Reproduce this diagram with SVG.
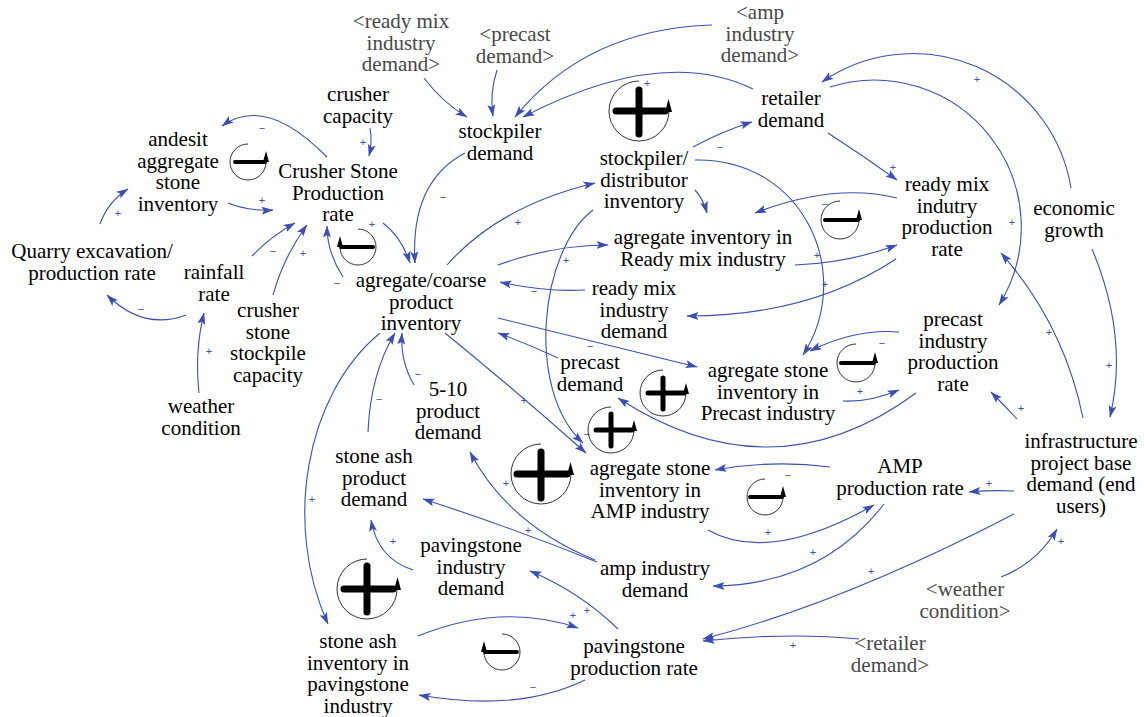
<svg xmlns="http://www.w3.org/2000/svg" width="1144" height="717" viewBox="0 0 1144 717">
<style>
  text { font-family: "Liberation Serif", "Times New Roman", serif; font-size: 21px; text-anchor: middle; fill: #000; }
  text.shadow { fill: #474747; }
  text.pol { font-family: "Liberation Sans", Arial, sans-serif; font-size: 11px; fill: #3c4fb0; dominant-baseline: central; }
  .link { fill: none; stroke: #3c4fb0; stroke-width: 1.1; marker-end: url(#ah); }
  .ring { fill: none; stroke: #333; stroke-width: 1; }
  .bar { stroke: #000; stroke-width: 4; stroke-linecap: round; }
  .bar5 { stroke: #000; stroke-width: 5; stroke-linecap: round; }
  .bar7 { stroke: #000; stroke-width: 7; stroke-linecap: round; }
  .tip { fill: #000; }
</style>
<defs>
  <marker id="ah" markerWidth="12" markerHeight="9" refX="11.5" refY="4.5" orient="auto" markerUnits="userSpaceOnUse">
    <path d="M0,0.5 L12,4.5 L0,8.5 L2.5,4.5 z" fill="#3c4fb0"/>
  </marker>
</defs>
<rect width="1144" height="717" fill="#fff"/>

<g id="connectors">
  <path class="link" d="M327,157 Q265.5,94.5 222,126"/>
  <path class="link" d="M228,203 Q249.5,211.5 273,210"/>
  <path class="link" d="M100,224 Q108,201.5 128,189"/>
  <path class="link" d="M370,128 Q372.5,142 369,156"/>
  <path class="link" d="M252,256 Q270.5,236.5 295,223"/>
  <path class="link" d="M273,295 Q284,256 307,225"/>
  <path class="link" d="M343,277 Q327,252.5 327,226"/>
  <path class="link" d="M383,223 Q401.5,237 410,263"/>
  <path class="link" d="M465,153 Q410,182 415,263"/>
  <path class="link" d="M424,78 Q442.5,102.5 467,117"/>
  <path class="link" d="M497,70 Q489.5,93 493,116"/>
  <path class="link" d="M712,25 Q586.5,29 515,117"/>
  <path class="link" d="M753,89 Q662,45 523,117"/>
  <path class="link" d="M693,147 Q721.5,131.5 752,122"/>
  <path class="link" d="M695,190 Q703,198.5 707,213"/>
  <path class="link" d="M897,198 Q834,182.5 755,213"/>
  <path class="link" d="M593,210 C540,250 525,390 583,443"/>
  <path class="link" d="M447,265 Q499,206 595,183"/>
  <path class="link" d="M498,265 Q553,245 608,245"/>
  <path class="link" d="M585,290 Q543.5,292 500,282"/>
  <path class="link" d="M795,265 Q848,263 897,245"/>
  <path class="link" d="M896,259 Q808.5,316.5 687,316"/>
  <path class="link" d="M695,160 C805,158 855,275 803,355"/>
  <path class="link" d="M899,332 Q855.5,328.5 810,351"/>
  <path class="link" d="M843,401 Q869,402.5 899,390"/>
  <path class="link" d="M916,393 Q773,498.5 618,398"/>
  <path class="link" d="M498,318 Q597,342 697,367"/>
  <path class="link" d="M558,358 Q528,344 498,333"/>
  <path class="link" d="M445,333 Q515,390 586,453"/>
  <path class="link" d="M830,467 Q772.5,459.5 715,470"/>
  <path class="link" d="M708,530 Q769,564.5 874,505"/>
  <path class="link" d="M884,504 Q821.5,585 713,586"/>
  <path class="link" d="M1014,491 Q991,490 969,492"/>
  <path class="link" d="M1014,514 Q841.5,603.5 703,639"/>
  <path class="link" d="M859,639 Q789,632 703,641"/>
  <path class="link" d="M1001,577 Q1037,563 1057,529"/>
  <path class="link" d="M1083,418 Q1064,324.5 1001,253"/>
  <path class="link" d="M1092,249 Q1129,337 1110,417"/>
  <path class="link" d="M1017,419 Q1004,405 991,392"/>
  <path class="link" d="M1071,188 A160,160 0 0,0 822,82"/>
  <path class="link" d="M830,87 A147,147 0 0,1 999,305"/>
  <path class="link" d="M828,133 Q862,155 897,180"/>
  <path class="link" d="M199,393 Q194.5,351 204,313"/>
  <path class="link" d="M186,315 Q143.5,331 107,295"/>
  <path class="link" d="M368,432 Q370.5,373.5 395,333"/>
  <path class="link" d="M414,385 Q400,361 402,333"/>
  <path class="link" d="M380,333 C305,395 283,525 328,624"/>
  <path class="link" d="M595,560 Q507.5,524 470,452"/>
  <path class="link" d="M597,562 Q510,527 423,499"/>
  <path class="link" d="M618,629 Q580,592 530,571"/>
  <path class="link" d="M413,570 Q378,559 371,520"/>
  <path class="link" d="M418,636 Q502,602 578,628"/>
  <path class="link" d="M585,680 Q518,712.5 419,695"/>

  <!-- polarity signs -->
  <text class="pol" x="262" y="128">−</text>
  <text class="pol" x="262" y="200">+</text>
  <text class="pol" x="118" y="213">+</text>
  <text class="pol" x="363" y="142">+</text>
  <text class="pol" x="273" y="251">−</text>
  <text class="pol" x="303" y="253">+</text>
  <text class="pol" x="337" y="283">−</text>
  <text class="pol" x="372" y="224">+</text>
  <text class="pol" x="443" y="197">−</text>
  <text class="pol" x="647" y="83">+</text>
  <text class="pol" x="720" y="147">−</text>
  <text class="pol" x="825" y="204">−</text>
  <text class="pol" x="518" y="222">+</text>
  <text class="pol" x="566" y="260">+</text>
  <text class="pol" x="534" y="291">−</text>
  <text class="pol" x="817" y="255">+</text>
  <text class="pol" x="825" y="284">+</text>
  <text class="pol" x="882" y="343">−</text>
  <text class="pol" x="860" y="391">+</text>
  <text class="pol" x="590" y="346">−</text>
  <text class="pol" x="524" y="400">+</text>
  <text class="pol" x="587" y="434">−</text>
  <text class="pol" x="788" y="475">−</text>
  <text class="pol" x="768" y="532">+</text>
  <text class="pol" x="813" y="552">+</text>
  <text class="pol" x="989" y="483">+</text>
  <text class="pol" x="871" y="571">+</text>
  <text class="pol" x="793" y="645">+</text>
  <text class="pol" x="1061" y="541">+</text>
  <text class="pol" x="1049" y="332">+</text>
  <text class="pol" x="1109" y="365">+</text>
  <text class="pol" x="1021" y="408">+</text>
  <text class="pol" x="977" y="79">+</text>
  <text class="pol" x="1012" y="222">+</text>
  <text class="pol" x="893" y="167">+</text>
  <text class="pol" x="209" y="351">+</text>
  <text class="pol" x="141" y="309">−</text>
  <text class="pol" x="379" y="399">−</text>
  <text class="pol" x="418" y="374">−</text>
  <text class="pol" x="312" y="499">+</text>
  <text class="pol" x="506" y="483">+</text>
  <text class="pol" x="528" y="530">+</text>
  <text class="pol" x="587" y="610">+</text>
  <text class="pol" x="393" y="541">+</text>
  <text class="pol" x="573" y="615">+</text>
  <text class="pol" x="533" y="687">−</text>
</g>

<!-- loop markers -->
<g id="loop-b1">
  <path class="ring" d="M248,144 A18,18 0 1 0 266,162"/>
  <line class="bar" x1="235" y1="162" x2="265" y2="162"/>
  <polygon class="tip" points="263,162 269,162 266,151"/>
</g>
<g id="loop-b2">
  <path class="ring" d="M358,229 A18,18 0 1 1 340,247"/>
  <line class="bar" x1="341" y1="247" x2="373" y2="247"/>
  <polygon class="tip" points="337,247 343,247 340,236"/>
</g>
<g id="loop-r1">
  <path class="ring" d="M639,81 A30,30 0 1 0 669,111"/>
  <line class="bar7" x1="616" y1="111" x2="665" y2="111"/>
  <line class="bar7" x1="639" y1="90" x2="639" y2="134"/>
  <polygon class="tip" points="665,112 672,112 668.5,99"/>
</g>
<g id="loop-b3">
  <path class="ring" d="M840,201 A19,19 0 1 0 859,220"/>
  <line class="bar" x1="825" y1="220" x2="858" y2="220"/>
  <polygon class="tip" points="856,220 862,220 859,209"/>
</g>
<g id="loop-b4">
  <path class="ring" d="M856,344 A19,19 0 1 0 875,363"/>
  <line class="bar" x1="841" y1="363" x2="874" y2="363"/>
  <polygon class="tip" points="872,363 878,363 875,352"/>
</g>
<g id="loop-r2">
  <path class="ring" d="M663,370 A23,23 0 1 0 686,393"/>
  <line class="bar5" x1="648" y1="393" x2="684" y2="393"/>
  <line class="bar5" x1="663" y1="378" x2="663" y2="409"/>
  <polygon class="tip" points="683,394 689,394 686,383"/>
</g>
<g id="loop-r3">
  <path class="ring" d="M611,407 A23,23 0 1 0 634,430"/>
  <line class="bar5" x1="596" y1="430" x2="632" y2="430"/>
  <line class="bar5" x1="611" y1="414" x2="611" y2="446"/>
  <polygon class="tip" points="631,431 637,431 634,420"/>
</g>
<g id="loop-r4">
  <path class="ring" d="M541,444 A30,30 0 1 0 571,474"/>
  <line class="bar7" x1="517" y1="474" x2="567" y2="474"/>
  <line class="bar7" x1="541" y1="452" x2="541" y2="498"/>
  <polygon class="tip" points="567,475 574,475 570.5,462"/>
</g>
<g id="loop-b5">
  <path class="ring" d="M765,479 A18,18 0 1 0 783,497"/>
  <line class="bar" x1="750" y1="497" x2="782" y2="497"/>
  <polygon class="tip" points="780,497 786,497 783,486"/>
</g>
<g id="loop-r5">
  <path class="ring" d="M367,559 A30,30 0 1 0 397,589"/>
  <line class="bar7" x1="344" y1="589" x2="393" y2="589"/>
  <line class="bar7" x1="367" y1="566" x2="367" y2="612"/>
  <polygon class="tip" points="394,590 401,590 397.5,577"/>
</g>
<g id="loop-b6">
  <path class="ring" d="M502,634 A18,18 0 1 1 484,652"/>
  <line class="bar" x1="485" y1="652" x2="517" y2="652"/>
  <polygon class="tip" points="481,652 487,652 484,641"/>
</g>

<!-- variables -->
<g id="andesit-inventory"><text x="178" y="146"><tspan x="178">andesit</tspan><tspan x="178" dy="21.6">aggregate</tspan><tspan x="178" dy="21.6">stone</tspan><tspan x="178" dy="21.6">inventory</tspan></text></g>
<g id="crusher-capacity"><text x="358" y="101"><tspan x="358">crusher</tspan><tspan x="358" dy="21.6">capacity</tspan></text></g>
<g id="crusher-production"><text x="338" y="178"><tspan x="338">Crusher Stone</tspan><tspan x="338" dy="21.6">Production</tspan><tspan x="338" dy="21.6">rate</tspan></text></g>
<g id="shadow-readymix-demand"><text class="shadow" x="401" y="28"><tspan x="401">&lt;ready mix</tspan><tspan x="401" dy="21.6">industry</tspan><tspan x="401" dy="21.6">demand&gt;</tspan></text></g>
<g id="shadow-precast-demand"><text class="shadow" x="515" y="41"><tspan x="515">&lt;precast</tspan><tspan x="515" dy="21.6">demand&gt;</tspan></text></g>
<g id="stockpiler-demand"><text x="500" y="138"><tspan x="500">stockpiler</tspan><tspan x="500" dy="21.6">demand</tspan></text></g>
<g id="shadow-amp-demand"><text class="shadow" x="760" y="19"><tspan x="760">&lt;amp</tspan><tspan x="760" dy="21.6">industry</tspan><tspan x="760" dy="21.6">demand&gt;</tspan></text></g>
<g id="retailer-demand"><text x="791" y="105"><tspan x="791">retailer</tspan><tspan x="791" dy="21.6">demand</tspan></text></g>
<g id="stockpiler-inventory"><text x="644" y="165"><tspan x="644">stockpiler/</tspan><tspan x="644" dy="21.6">distributor</tspan><tspan x="644" dy="21.6">inventory</tspan></text></g>
<g id="readymix-production"><text x="947" y="191"><tspan x="947">ready mix</tspan><tspan x="947" dy="21.6">indutry</tspan><tspan x="947" dy="21.6">production</tspan><tspan x="947" dy="21.6">rate</tspan></text></g>
<g id="economic-growth"><text x="1074" y="215"><tspan x="1074">economic</tspan><tspan x="1074" dy="21.6">growth</tspan></text></g>
<g id="readymix-inventory"><text x="703" y="244"><tspan x="703">agregate inventory in</tspan><tspan x="703" dy="21.6">Ready mix industry</tspan></text></g>
<g id="quarry-rate"><text x="92" y="258"><tspan x="92">Quarry excavation/</tspan><tspan x="92" dy="21.6">production rate</tspan></text></g>
<g id="rainfall-rate"><text x="214" y="279"><tspan x="214">rainfall</tspan><tspan x="214" dy="21.6">rate</tspan></text></g>
<g id="stockpile-capacity"><text x="268" y="317"><tspan x="268">crusher</tspan><tspan x="268" dy="21.6">stone</tspan><tspan x="268" dy="21.6">stockpile</tspan><tspan x="268" dy="21.6">capacity</tspan></text></g>
<g id="weather-condition"><text x="201" y="413"><tspan x="201">weather</tspan><tspan x="201" dy="21.6">condition</tspan></text></g>
<g id="coarse-inventory"><text x="421" y="287"><tspan x="421">agregate/coarse</tspan><tspan x="421" dy="21.6">product</tspan><tspan x="421" dy="21.6">inventory</tspan></text></g>
<g id="product-5-10-demand"><text x="448" y="396"><tspan x="448">5-10</tspan><tspan x="448" dy="21.6">product</tspan><tspan x="448" dy="21.6">demand</tspan></text></g>
<g id="stone-ash-demand"><text x="374" y="463"><tspan x="374">stone ash</tspan><tspan x="374" dy="21.6">product</tspan><tspan x="374" dy="21.6">demand</tspan></text></g>
<g id="readymix-demand"><text x="634" y="295"><tspan x="634">ready mix</tspan><tspan x="634" dy="21.6">industry</tspan><tspan x="634" dy="21.6">demand</tspan></text></g>
<g id="precast-demand"><text x="590" y="369"><tspan x="590">precast</tspan><tspan x="590" dy="21.6">demand</tspan></text></g>
<g id="precast-inventory"><text x="768" y="377"><tspan x="768">agregate stone</tspan><tspan x="768" dy="21.6">inventory in</tspan><tspan x="768" dy="21.6">Precast industry</tspan></text></g>
<g id="precast-production"><text x="953" y="326"><tspan x="953">precast</tspan><tspan x="953" dy="21.6">industry</tspan><tspan x="953" dy="21.6">production</tspan><tspan x="953" dy="21.6">rate</tspan></text></g>
<g id="infrastructure-demand"><text x="1081" y="448"><tspan x="1081">infrastructure</tspan><tspan x="1081" dy="21.6">project base</tspan><tspan x="1081" dy="21.6">demand (end</tspan><tspan x="1081" dy="21.6">users)</tspan></text></g>
<g id="amp-production"><text x="900" y="473"><tspan x="900">AMP</tspan><tspan x="900" dy="21.6">production rate</tspan></text></g>
<g id="amp-inventory"><text x="650" y="475"><tspan x="650">agregate stone</tspan><tspan x="650" dy="21.6">inventory in</tspan><tspan x="650" dy="21.6">AMP industry</tspan></text></g>
<g id="amp-demand"><text x="655" y="575"><tspan x="655">amp industry</tspan><tspan x="655" dy="21.6">demand</tspan></text></g>
<g id="pavingstone-demand"><text x="471" y="552"><tspan x="471">pavingstone</tspan><tspan x="471" dy="21.6">industry</tspan><tspan x="471" dy="21.6">demand</tspan></text></g>
<g id="stone-ash-inventory"><text x="358" y="648"><tspan x="358">stone ash</tspan><tspan x="358" dy="21.6">inventory in</tspan><tspan x="358" dy="21.6">pavingstone</tspan><tspan x="358" dy="21.6">industry</tspan></text></g>
<g id="pavingstone-production"><text x="634" y="653"><tspan x="634">pavingstone</tspan><tspan x="634" dy="21.6">production rate</tspan></text></g>
<g id="shadow-weather"><text class="shadow" x="965" y="596"><tspan x="965">&lt;weather</tspan><tspan x="965" dy="21.6">condition&gt;</tspan></text></g>
<g id="shadow-retailer"><text class="shadow" x="890" y="650"><tspan x="890">&lt;retailer</tspan><tspan x="890" dy="21.6">demand&gt;</tspan></text></g>
</svg>
